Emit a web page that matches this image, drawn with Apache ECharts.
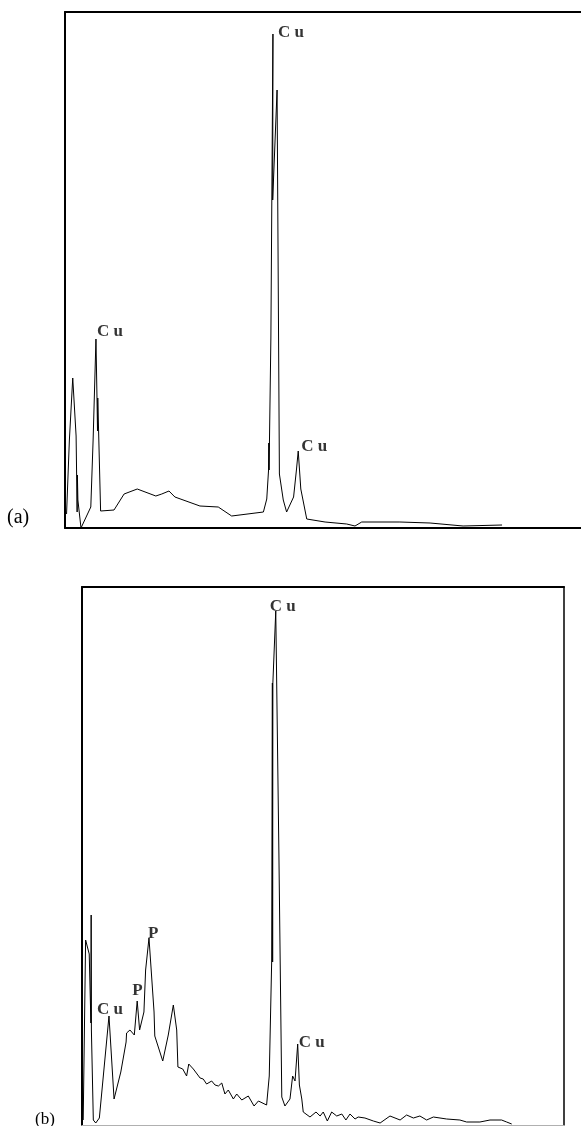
<!DOCTYPE html>
<html>
<head>
<meta charset="utf-8">
<script src="https://cdn.jsdelivr.net/npm/echarts@6/dist/echarts.min.js"></script>
<style>
html,body{margin:0;padding:0;background:#fff;}
#chart{width:581px;height:1126px;}
</style>
</head>
<body>
<div id="chart"></div>
<script>
// ---- Panel (a) spectrum (energy in keV, counts in arbitrary units) ----
const energyA = [0.06,0.17,0.30,0.43,0.47,0.48,0.50,0.62,1.00,1.09,1.20,1.24,1.26,1.27,1.38,1.90,2.29,2.80,3.52,3.75,4.03,4.26,5.23,5.94,6.46,7.69,7.82,7.89,7.90,7.91,7.98,8.06,8.05,8.22,8.31,8.46,8.59,8.86,8.97,9.04,9.14,9.37,10.08,10.92,11.24,11.50,12.98,14.15,15.43,16.94];
const countsA = [14,88,150,92,16,53,28,0,21,88,189,130,97,130,17,18,34,39,32,34,37,31,22,21,12,16,29,58,85,58,190,494,328,438,54,28,16,31,58,77,39,9,6,4,2,6,6,5,2,3];
const peakTextA = ['C u','C u','C u'];
const peakIdxA  = [10,31,39];

// ---- Panel (b) spectrum ----
const energyB = [0.05,0.15,0.30,0.37,0.38,0.39,0.47,0.57,0.72,1.12,1.33,1.61,1.83,1.85,1.99,2.17,2.29,2.39,2.57,2.64,2.78,2.99,3.02,3.35,3.58,3.79,3.93,3.98,4.18,4.34,4.43,4.62,4.90,5.03,5.17,5.38,5.52,5.66,5.80,5.93,6.07,6.28,6.42,6.63,6.90,7.14,7.32,7.66,7.77,7.87,7.90,7.91,7.92,8.04,8.17,8.29,8.42,8.63,8.74,8.84,8.95,9.02,9.12,9.18,9.46,9.71,9.88,10.01,10.18,10.36,10.57,10.78,10.95,11.12,11.33,11.46,11.74,12.09,12.37,12.78,13.20,13.47,13.75,14.02,14.30,14.58,15.13,15.68,15.96,16.51,16.93,17.41,17.62,17.83];
const countsB = [5,185,171,102,210,95,5,2,7,109,26,53,83,92,95,90,124,95,113,155,187,113,89,64,90,120,95,58,56,49,61,56,47,46,41,44,40,39,42,31,35,26,31,25,29,19,24,20,49,163,442,163,442,514,272,28,19,26,49,44,81,40,26,13,8,13,9,13,4,13,9,11,5,11,6,8,7,4,2,9,5,10,7,9,5,8,6,5,3,3,5,5,3,1];
const peakTextB = ['C u','P','P','C u','C u'];
const peakIdxB  = [9,16,20,53,60];

const panelLabels = ['(a)','(b)'];

// ---- styling (kept separate from data) ----
const serif = "'Liberation Serif','Times New Roman',serif";
const offsetsA = [[1,-7],[5,-1],[3,-4]];
const offsetsB = [[-12,-6],[-5,-10],[-1,-4],[-6,-4],[1,-1]];

function zip(xs, ys){ return xs.map((x,i)=>[x, ys[i]]); }
function labelData(xs, ys, idx, texts, offs){
  return idx.map((k,i)=>({
    value:[xs[k], ys[k]],
    name:texts[i],
    label:{offset:offs[i]}
  }));
}
const hidden = {axisLabel:{show:false},axisTick:{show:false},splitLine:{show:false}};
function ax(extra, lineColor, lineWidth){
  return Object.assign({}, hidden, {axisLine:{show:true,onZero:false,lineStyle:{color:lineColor,width:lineWidth}}}, extra);
}

const chart = echarts.init(document.getElementById('chart'), null, {renderer:'canvas'});
chart.setOption({
  animation:false,
  backgroundColor:'#fff',
  title:[
    {text:panelLabels[0], left:7, top:508, padding:0, textStyle:{fontFamily:serif,fontSize:20,fontWeight:'normal',color:'#000'}},
    {text:panelLabels[1], left:35, top:1111, padding:0, textStyle:{fontFamily:serif,fontSize:17,fontWeight:'normal',color:'#000'}}
  ],
  grid:[
    {left:65, top:12, width:516, height:516},
    {left:82, top:587, width:482, height:538}
  ],
  xAxis:[
    ax({type:'value', gridIndex:0, min:0, max:20, position:'bottom'}, '#000', 2),
    ax({type:'value', gridIndex:0, min:0, max:20, position:'top'}, '#000', 2),
    ax({type:'value', gridIndex:1, min:0, max:20, position:'bottom'}, '#b0b0b0', 1),
    ax({type:'value', gridIndex:1, min:0, max:20, position:'top'}, '#000', 2)
  ],
  yAxis:[
    ax({type:'value', gridIndex:0, min:0, max:516, position:'left'}, '#000', 2),
    ax({type:'value', gridIndex:1, min:0, max:538, position:'left'}, '#000', 2),
    ax({type:'value', gridIndex:1, min:0, max:538, position:'right'}, '#000', 1.5)
  ],
  series:[
    {type:'line', xAxisIndex:0, yAxisIndex:0, data:zip(energyA,countsA), symbol:'none',
     lineStyle:{color:'#000',width:1}, silent:true},
    {type:'line', xAxisIndex:2, yAxisIndex:1, data:zip(energyB,countsB), symbol:'none',
     lineStyle:{color:'#000',width:1}, silent:true},
    {type:'scatter', xAxisIndex:0, yAxisIndex:0, symbolSize:0,
     data:labelData(energyA,countsA,peakIdxA,peakTextA,offsetsA),
     label:{show:true, position:'inside', align:'left', verticalAlign:'middle', formatter:p=>p.name,
            fontFamily:serif, fontSize:17, fontWeight:'bold', color:'#000'}},
    {type:'scatter', xAxisIndex:2, yAxisIndex:1, symbolSize:0,
     data:labelData(energyB,countsB,peakIdxB,peakTextB,offsetsB),
     label:{show:true, position:'inside', align:'left', verticalAlign:'middle', formatter:p=>p.name,
            fontFamily:serif, fontSize:17, fontWeight:'bold', color:'#000'}}
  ]
});
</script>
</body>
</html>
